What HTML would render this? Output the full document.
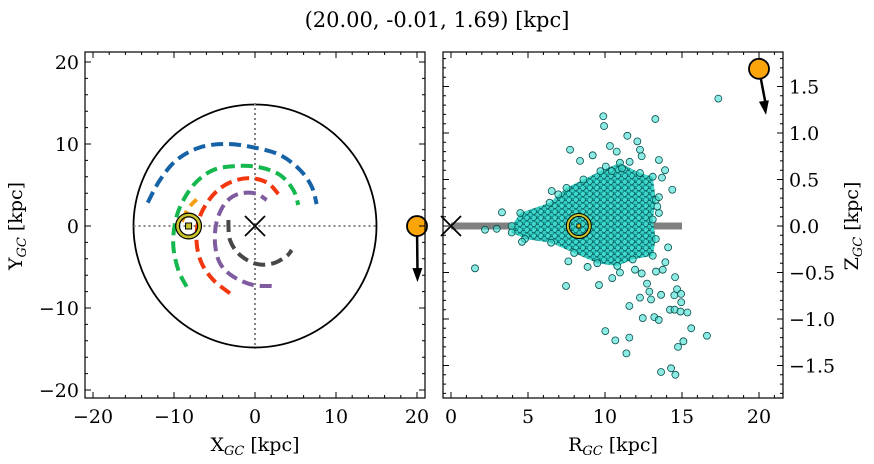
<!DOCTYPE html>
<html><head><meta charset="utf-8">
<style>
html,body{margin:0;padding:0;background:#fff;}
svg{display:block;font-family:"DejaVu Serif","Liberation Serif",serif;}
</style></head>
<body>
<svg id="c" width="874" height="464" viewBox="0 0 874 464" xmlns="http://www.w3.org/2000/svg">
<defs>
<pattern id="dots" width="7" height="6" patternUnits="userSpaceOnUse">
<rect width="7" height="6" fill="#17a3a0"/>
<circle cx="2" cy="2" r="2.6" fill="#3fd8cc" stroke="#0b5553" stroke-width="0.7"/>
<circle cx="5.5" cy="5" r="2.6" fill="#35cbc0" stroke="#0b5553" stroke-width="0.7"/>
</pattern>
</defs>
<text x="437" y="27" text-anchor="middle" font-size="21" fill="#000">(20.00, -0.01, 1.69) [kpc]</text>
</svg>
<script>
// ---- Left panel data (XY plane, kpc)
const blueOrbitX=[-13.25,-11.73,-9.67,-6.79,-3.5,-0.21,3.09,5.56,7.0,7.61];
const blueOrbitY=[2.85,5.61,8.05,9.59,10.0,9.59,8.66,6.83,4.8,2.68];
const greenOrbitX=[-8.44,-9.47,-10.08,-9.88,-9.05,-7.41,-5.14,-2.26,0.62,3.09,4.73,5.35];
const greenOrbitY=[-7.40,-5.37,-2.52,0.33,2.76,5.2,6.83,7.32,7.15,6.22,4.39,2.56];
const orangeOrbitX=[-9.05,-8.23,-7.2];
const orangeOrbitY=[0.53,2.15,3.25];
const redOrbitX=[-3.09,-5.14,-6.58,-7.2,-7.0,-5.97,-4.32,-2.26,-0.21,1.65,2.88];
const redOrbitY=[-8.21,-6.59,-4.55,-2.11,0.53,2.76,4.59,5.61,5.81,5.2,3.9];
const purpleOrbitX=[2.06,-0.21,-2.67,-4.32,-4.94,-4.73,-3.7,-2.06,0,1.44];
const purpleOrbitY=[-7.32,-7.2,-6.18,-4.55,-2.11,0.53,2.76,3.9,3.98,3.17];
const grayOrbitX=[-3.29,-3.09,-1.85,0.21,2.26,3.91,4.53];
const grayOrbitY=[0.73,-1.71,-3.54,-4.63,-4.55,-3.66,-2.93];
const diskRadius=15;
const sunX=-8.2, sunY=0, sunR=8.3, sunZ=0;
const objX=20.00, objY=-0.01, objZ=1.69, objR=20.0;
const xTicksL=[-20,-10,0,10,20];
const yTicksL=[-20,-10,0,10,20];
// ---- Right panel data (R-Z)
const coreR=[3.94,4.5,6.4,7.5,8.6,9.7,10.97,12.27,13.1,13.3,13.1,13.3,13.1,11.8,10.8,9.5,8.0,6.5,4.8,3.94];
const coreZ=[0.0,0.14,0.25,0.41,0.5,0.59,0.68,0.57,0.53,0.28,0.07,-0.14,-0.32,-0.36,-0.43,-0.40,-0.29,-0.18,-0.14,-0.07];
const starR=[17.36,9.89,9.94,13.27,11.45,12.1,10.32,10.76,12.27,7.73,8.38,9.2,12.38,13.5,13.9,14.37,6.54,6.97,3.31,2.21,2.97,1.56,7.47,9.61,4.61,14.1,11.58,12.27,12.88,12.99,13.64,12.73,14.55,14.68,14.5,14.94,14.95,14.22,14.52,14.9,15.35,12.45,13.2,13.49,15.6,16.62,10.02,10.67,11.58,11.39,15.09,14.74,13.64,14.29,14.57,11.95,12.38,10.47,10.97,13.75,13.31,13.92,8.87,7.62,13.5,13.4,13.5,13.7,10.44,10.05,11.1,11.6];
const starZ=[1.37,1.18,1.075,1.15,0.97,0.91,0.86,0.80,0.82,0.82,0.70,0.76,0.75,0.71,0.60,0.39,0.376,0.34,0.147,-0.04,-0.03,-0.455,-0.645,-0.635,-0.17,-0.23,-0.86,-0.77,-0.706,-0.79,-0.74,-0.62,-0.55,-0.68,-0.745,-0.73,-0.82,-0.90,-0.90,-0.92,-0.93,-0.99,-0.98,-1.01,-1.10,-1.18,-1.13,-1.23,-1.20,-1.37,-1.24,-1.30,-1.57,-1.53,-1.60,-0.47,-0.51,-0.56,-0.50,-0.47,-0.49,-0.39,-0.44,-0.38,0.14,0.21,0.31,0.52,0.59,0.64,0.62,0.69];
const xTicksR=[0,5,10,15,20];
const yTicksR=[-1.5,-1.0,-0.5,0.0,0.5,1.0,1.5];

const NS='http://www.w3.org/2000/svg';
const svg=document.getElementById('c');
function mk(tag,attrs,parent){const e=document.createElementNS(NS,tag);for(const k in attrs)e.setAttribute(k,attrs[k]);(parent||svg).appendChild(e);return e;}

const L={x0:85,x1:425,y0:52,y1:398};
const lx=v=>255+v*8.1, ly=v=>226-v*8.2;
const R={x0:443,x1:783,y0:52,y1:398};
const rx=v=>451+v*15.4, rz=v=>226-v*93;

function smoothPath(xs,ys,fx,fy){
  const p=xs.map((x,i)=>[fx(x),fy(ys[i])]);
  let d='M'+p[0][0]+','+p[0][1];
  for(let i=0;i<p.length-1;i++){
    const p0=p[i-1]||p[i],p1=p[i],p2=p[i+1],p3=p[i+2]||p2;
    const c1=[p1[0]+(p2[0]-p0[0])/6,p1[1]+(p2[1]-p0[1])/6];
    const c2=[p2[0]-(p3[0]-p1[0])/6,p2[1]-(p3[1]-p1[1])/6];
    d+=' C'+c1.join(',')+' '+c2.join(',')+' '+p2.join(',');
  }
  return d;
}

// ===== LEFT PANEL =====
const gl=mk('g',{});


const disk=mk('circle',{cx:lx(0),cy:ly(0),r:diskRadius*8.1,fill:'none',stroke:'#000','stroke-width':1.8},gl);


const hl=mk('line',{x1:lx(-diskRadius),x2:lx(diskRadius),y1:ly(0),y2:ly(0),stroke:'#777','stroke-width':1.8,'stroke-dasharray':'2 3'},gl);


const vl=mk('line',{x1:lx(0),x2:lx(0),y1:ly(diskRadius),y2:ly(-diskRadius),stroke:'#777','stroke-width':1.8,'stroke-dasharray':'2 3'},gl);


const orbits=[[blueOrbitX,blueOrbitY,'#1662a6','orbit-blue'],[greenOrbitX,greenOrbitY,'#14b84e','orbit-green'],[orangeOrbitX,orangeOrbitY,'#f5a016','orbit-orange'],[redOrbitX,redOrbitY,'#f2360e','orbit-red'],[purpleOrbitX,purpleOrbitY,'#7f5ba0','orbit-purple'],[grayOrbitX,grayOrbitY,'#474747','orbit-gray']];
orbits.forEach(o=>{
  const p=mk('path',{d:smoothPath(o[0],o[1],lx,ly),fill:'none',stroke:o[2],'stroke-width':4,'stroke-dasharray':'12 6'},gl);
  
  
});
function xMark(cx,cy,s,name,parent){
  const g=mk('g',{},parent);
  
  
  mk('path',{d:`M${cx-s},${cy-s}L${cx+s},${cy+s}M${cx-s},${cy+s}L${cx+s},${cy-s}`,stroke:'#000','stroke-width':1.8},g);
}
xMark(lx(0),ly(0),10,'galactic-center-marker',gl);
function sun(cx,cy,name,parent){
  const g=mk('g',{},parent);
  
  
  mk('circle',{cx,cy,r:11,fill:'none',stroke:'#000','stroke-width':5},g);
  mk('circle',{cx,cy,r:11,fill:'none',stroke:'#c9c22a','stroke-width':2.6},g);
  mk('rect',{x:cx-3,y:cy-3,width:6,height:6,fill:'#c9c22a',stroke:'#000','stroke-width':1},g);
}
sun(lx(sunX),ly(sunY),'sun-marker',gl);
function obj(cx,cy,ax,ay,name,parent){
  const g=mk('g',{},parent);
  
  
  mk('line',{x1:cx,y1:cy,x2:ax,y2:ay-9,stroke:'#000','stroke-width':2.5},g);
  const ang=Math.atan2(ay-cy,ax-cx);
  const hx=ax,hy=ay; const w=5,l=14;
  const bx=hx-l*Math.cos(ang),by=hy-l*Math.sin(ang);
  mk('polygon',{points:`${hx},${hy} ${bx+w*Math.sin(ang)},${by-w*Math.cos(ang)} ${bx-w*Math.sin(ang)},${by+w*Math.cos(ang)}`,fill:'#000'},g);
  mk('circle',{cx,cy,r:10,fill:'#fca50a',stroke:'#000','stroke-width':1.8},g);
}
obj(lx(objX),ly(objY),lx(objX)+0.5,ly(objY)+56,'object-marker-xy',gl);

// ===== RIGHT PANEL =====
const gr=mk('g',{});


const bar=mk('line',{x1:rx(0),x2:rx(15),y1:rz(0),y2:rz(0),stroke:'#808080','stroke-width':7},gr);


const core=mk('polygon',{points:coreR.map((r,i)=>rx(r)+','+rz(coreZ[i])).join(' '),fill:'url(#dots)',stroke:'none'},gr);


coreR.forEach((r,i)=>{
  const c=mk('circle',{cx:rx(r),cy:rz(coreZ[i]),r:3.5,fill:'#40e0d0','fill-opacity':0.7,stroke:'#0a4d4d','stroke-width':0.8},gr);
  
  
});
starR.forEach((r,i)=>{
  const c=mk('circle',{cx:rx(r),cy:rz(starZ[i]),r:3.5,fill:'#40e0d0','fill-opacity':0.6,stroke:'#0a4d4d','stroke-width':0.8},gr);
  
  
});
xMark(rx(0),rz(0),10,'galactic-center-marker-rz',gr);
const s2=mk('g',{},gr);


mk('circle',{cx:rx(sunR),cy:rz(sunZ),r:11,fill:'none',stroke:'#000','stroke-width':4},s2);
mk('circle',{cx:rx(sunR),cy:rz(sunZ),r:11,fill:'none',stroke:'#c9c22a','stroke-width':2},s2);
mk('rect',{x:rx(sunR)-2,y:rz(sunZ)-2,width:4,height:4,fill:'#c9c22a',stroke:'#000','stroke-width':0.8},s2);
obj(rx(objR),rz(objZ),rx(objR)+7,rz(objZ)+46,'object-marker-rz',gr);

// ===== FRAMES & TICKS =====
const FS=19;
function frame(B,name){
  const f=mk('rect',{x:B.x0,y:B.y0,width:B.x1-B.x0,height:B.y1-B.y0,fill:'none',stroke:'#000','stroke-width':1.2});
  
  
}
function ticksX(B,f,major,minorStep,lo,hi,labels){
  let d='';
  for(let v=lo;v<=hi+1e-9;v+=minorStep){const x=f(v);if(x<B.x0||x>B.x1)continue;d+=`M${x},${B.y1}v-3M${x},${B.y0}v3`;}
  major.forEach(v=>{const x=f(v);d+=`M${x},${B.y1}v-6M${x},${B.y0}v6`;
    if(labels){const t=mk('text',{x,y:B.y1+25,'text-anchor':'middle','font-size':FS});t.textContent=v<0?'\u2212'+Math.abs(v):String(v);
    }});
  mk('path',{d,stroke:'#000','stroke-width':1});
}
function ticksY(B,f,major,minorStep,lo,hi,side,fmt){
  let d='';
  for(let v=lo;v<=hi+1e-9;v+=minorStep){const y=f(v);if(y<B.y0||y>B.y1)continue;d+=`M${B.x0},${y}h3M${B.x1},${y}h-3`;}
  major.forEach(v=>{const y=f(v);d+=`M${B.x0},${y}h6M${B.x1},${y}h-6`;
    if(side){const s=(v<0?'\u2212':'')+fmt(Math.abs(v));
      const t=side==='left'?mk('text',{x:B.x0-6,y:y+7,'text-anchor':'end','font-size':FS}):mk('text',{x:B.x1+6,y:y+7,'text-anchor':'start','font-size':FS});
      t.textContent=s;}});
  mk('path',{d,stroke:'#000','stroke-width':1});
}
frame(L,'xy-axes-frame');
ticksX(L,lx,xTicksL,2,-22,22,true);
ticksY(L,ly,yTicksL,2,-22,22,'left',v=>String(v));
frame(R,'rz-axes-frame');
ticksX(R,rx,xTicksR,1,0,21,true);
ticksY(R,rz,yTicksR,0.1,-1.9,1.9,'right',v=>v.toFixed(1));

function label(x,y,main,sub,rot,name){
  const t=mk('text',{x,y,'text-anchor':'middle','font-size':FS});
  if(rot)t.setAttribute('transform',`rotate(-90 ${x} ${y})`);
  
  
  const a=mk('tspan',{},t);a.textContent=main;
  const b=mk('tspan',{'font-size':13,'font-style':'italic',dy:4},t);b.textContent=sub;
  const c=mk('tspan',{dy:-4},t);c.textContent=' [kpc]';
}
label(255,451,'X','GC',false,'x-axis-title');
label(22,226,'Y','GC',true,'y-axis-title');
label(613,451,'R','GC',false,'r-axis-title');
label(858,226,'Z','GC',true,'z-axis-title');
</script>
</body></html>
